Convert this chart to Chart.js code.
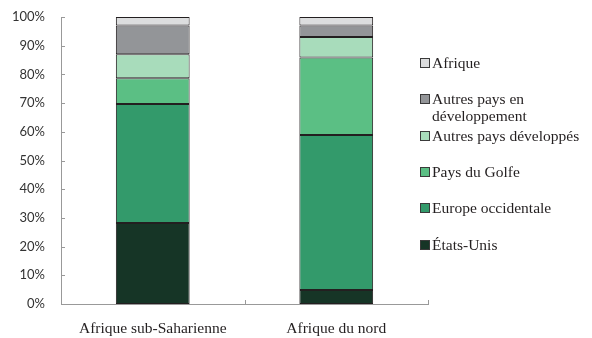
<!DOCTYPE html>
<html>
<head>
<meta charset="utf-8">
<script src="https://cdn.jsdelivr.net/npm/chart.js@4/dist/chart.umd.min.js"></script>
<style>
  html, body { margin: 0; padding: 0; background: #fff; }
  #wrap { position: relative; width: 592px; height: 338px; }
  canvas { display: block; }
  #legend { position: absolute; left: 0; top: 0; font-family: "Liberation Serif", serif; font-size: 15.5px; color: #231f20; }
  .item { position: absolute; left: 418px; white-space: nowrap; line-height: 17px; }
  .box { position: absolute; left: 2px; top: 4px; width: 8px; height: 8px; border: 1px solid #3a3a3a; }
  .txt { position: absolute; left: 14px; top: 0; }
</style>
</head>
<body>
<div id="wrap">
  <canvas id="chart" width="592" height="338"></canvas>
  <div id="legend"></div>
</div>
<script>
const regions = ['Afrique sub-Saharienne', 'Afrique du nord'];
const etatsUnis = [28.2, 4.9];
const europeOcc = [41.5, 54.0];
const golfe = [9.0, 27.0];
const autresDev = [8.3, 7.1];
const autresEnDev = [10.0, 4.0];
const afrique = [3.0, 3.0];
const yTicks = [0, 10, 20, 30, 40, 50, 60, 70, 80, 90, 100];

const seriesNames = ['États-Unis', 'Europe occidentale', 'Pays du Golfe', 'Autres pays développés', ['Autres pays en', 'développement'], 'Afrique'];
const seriesData = [etatsUnis, europeOcc, golfe, autresDev, autresEnDev, afrique];
const colors = ['#163526', '#339a6b', '#5bbf84', '#a8dcbb', '#939598', '#dcddde'];
const legendTops = [236, 199, 163, 127, 90, 54];

// small inward tick marks like the original
const innerTicks = {
    id: 'innerTicks',
    afterDraw(chart) {
        const ctx = chart.ctx;
        const x = chart.scales.x, y = chart.scales.y;
        ctx.save();
        ctx.strokeStyle = '#999';
        ctx.lineWidth = 1;
        ctx.beginPath();
        yTicks.forEach(v => {
            const py = Math.round(y.getPixelForValue(v)) + 0.5;
            ctx.moveTo(x.left, py);
            ctx.lineTo(x.left + 4, py);
        });
        const half = (x.getPixelForValue(1) - x.getPixelForValue(0)) / 2;
        regions.forEach((r, i) => {
            const px = Math.round(x.getPixelForValue(i) + half) + 0.5;
            ctx.moveTo(px, y.bottom);
            ctx.lineTo(px, y.bottom - 4);
        });
        ctx.stroke();
        ctx.restore();
    }
};

new Chart(document.getElementById('chart'), {
    type: 'bar',
    data: {
        labels: regions,
        datasets: seriesData.map((d, i) => ({
            label: Array.isArray(seriesNames[i]) ? seriesNames[i].join(' ') : seriesNames[i],
            data: d,
            backgroundColor: colors[i],
            borderColor: '#231f20',
            borderWidth: 1,
            borderSkipped: false,
            barPercentage: 0.402,
            categoryPercentage: 1
        }))
    },
    options: {
        responsive: false,
        animation: false,
        layout: { padding: { top: 17, right: 164, left: 0, bottom: 0 } },
        plugins: {
            legend: { display: false },
            tooltip: { enabled: false }
        },
        scales: {
            x: {
                stacked: true,
                grid: { display: false },
                border: { color: '#999', width: 1 },
                ticks: {
                    padding: 8,
                    color: '#231f20',
                    font: { family: 'Liberation Serif', size: 15.5 }
                },
                afterFit(s) { s.height = 34; }
            },
            y: {
                stacked: true,
                min: 0,
                max: 100,
                grid: { display: false, drawTicks: false },
                border: { color: '#999', width: 1 },
                afterBuildTicks(s) { s.ticks = yTicks.map(v => ({ value: v })); },
                ticks: {
                    padding: 16,
                    color: '#333',
                    font: { family: 'Lato', size: 13 },
                    callback: v => v + '%'
                },
                afterFit(s) { s.width = 61; s.paddingTop = 0; }
            }
        }
    },
    plugins: [innerTicks]
});

// legend built from the same arrays
const legend = document.getElementById('legend');
seriesNames.forEach((name, i) => {
    const item = document.createElement('div');
    item.className = 'item';
    item.style.top = legendTops[i] + 'px';
    const box = document.createElement('div');
    box.className = 'box';
    box.style.background = colors[i];
    const txt = document.createElement('div');
    txt.className = 'txt';
    txt.innerHTML = Array.isArray(name) ? name.join('<br>') : name;
    item.appendChild(box);
    item.appendChild(txt);
    legend.appendChild(item);
});
</script>
</body>
</html>
